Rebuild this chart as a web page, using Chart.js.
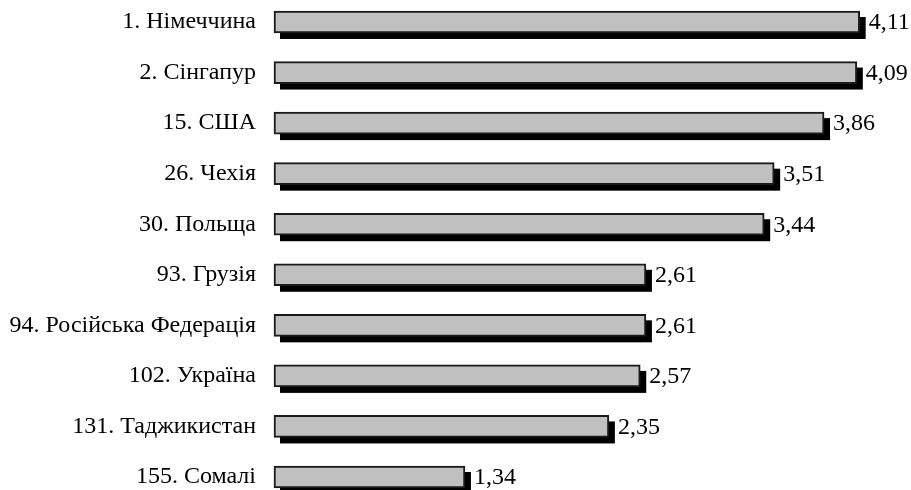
<!DOCTYPE html>
<html>
<head>
<meta charset="utf-8">
<script src="https://cdn.jsdelivr.net/npm/chart.js@4/dist/chart.umd.min.js"></script>
<style>
  html, body { margin: 0; padding: 0; background: #ffffff; }
  #wrap { width: 911px; height: 490px; }
</style>
</head>
<body>
<div id="wrap"><canvas id="c" width="911" height="490"></canvas></div>
<script>
// Countries with their ranking position
const categories = [
  '1. Німеччина',
  '2. Сінгапур',
  '15. США',
  '26. Чехія',
  '30. Польща',
  '93. Грузія',
  '94. Російська Федерація',
  '102. Україна',
  '131. Таджикистан',
  '155. Сомалі'
];
// Index score for each country
const scores = [4.11, 4.09, 3.86, 3.51, 3.44, 2.61, 2.61, 2.57, 2.35, 1.34];

const FONT = "'Liberation Serif', 'Times New Roman', serif";
const FONT_SIZE = 24;

// Solid drop shadow behind every bar, offset down and to the right
const shadowPlugin = {
  id: 'barShadow',
  beforeDatasetsDraw(chart) {
    const ctx = chart.ctx;
    const meta = chart.getDatasetMeta(0);
    ctx.save();
    ctx.fillStyle = '#000000';
    meta.data.forEach(bar => {
      const p = bar.getProps(['x', 'y', 'base', 'height'], true);
      const left = Math.min(p.base, p.x);
      const w = Math.abs(p.x - p.base);
      ctx.fillRect(left + 6, p.y - p.height / 2 + 6, w, p.height);
    });
    ctx.restore();
  }
};

// Value written after the end of each bar, with a decimal comma
const valueLabels = {
  id: 'valueLabels',
  afterDatasetsDraw(chart) {
    const ctx = chart.ctx;
    const meta = chart.getDatasetMeta(0);
    ctx.save();
    ctx.font = FONT_SIZE + 'px ' + FONT;
    ctx.fillStyle = '#000000';
    ctx.textAlign = 'left';
    ctx.textBaseline = 'middle';
    meta.data.forEach((bar, i) => {
      const p = bar.getProps(['x', 'y'], true);
      ctx.fillText(scores[i].toFixed(2).replace('.', ','), p.x + 9, p.y + 1);
    });
    ctx.restore();
  }
};

new Chart(document.getElementById('c'), {
  type: 'bar',
  data: {
    labels: categories,
    datasets: [{
      data: scores,
      backgroundColor: '#c0c0c0',
      borderColor: '#1a1a1a',
      borderWidth: 2,
      borderSkipped: false,
      barThickness: 22,
      clip: false
    }]
  },
  options: {
    indexAxis: 'y',
    responsive: false,
    animation: false,
    layout: { padding: { top: 22, bottom: 13, left: 0, right: 10 } },
    plugins: {
      legend: { display: false },
      tooltip: { enabled: false }
    },
    scales: {
      x: {
        display: false,
        min: 0,
        max: 4.4
      },
      y: {
        offset: false,
        grid: { display: false, drawTicks: false },
        border: { display: false },
        ticks: {
          color: '#000000',
          padding: 18,
          font: { family: FONT, size: FONT_SIZE }
        },
        afterFit(scale) {
          scale.width = 274;
          scale.paddingTop = 0;
          scale.paddingBottom = 0;
        }
      }
    }
  },
  plugins: [shadowPlugin, valueLabels]
});
</script>
</body>
</html>
